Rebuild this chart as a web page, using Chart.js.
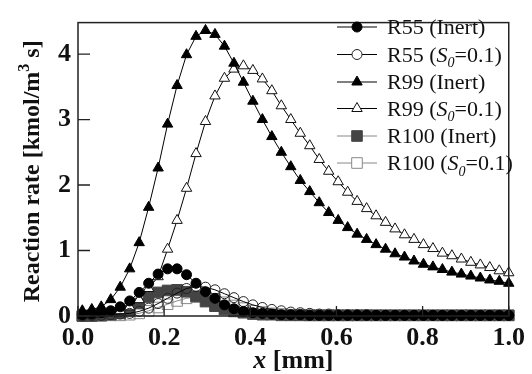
<!DOCTYPE html>
<html><head><meta charset="utf-8">
<script src="https://cdn.jsdelivr.net/npm/chart.js@4"></script>
<style>html,body{margin:0;padding:0;background:#fff}#wrap{width:532px;height:374px}</style>
</head><body><div id="wrap"><canvas id="c" width="532" height="374"></canvas></div>
<script>
// ---- data ----
const xPositions = [0.010,0.032,0.054,0.076,0.098,0.120,0.142,0.164,0.186,0.208,
  0.230,0.252,0.274,0.296,0.318,0.340,0.362,0.384,0.406,0.428,
  0.450,0.472,0.494,0.516,0.538,0.560,0.582,0.604,0.626,0.648,
  0.670,0.692,0.714,0.736,0.758,0.780,0.802,0.824,0.846,0.868,
  0.890,0.912,0.934,0.956,0.978,1.000];
const r55Inert = [0.02,0.03,0.05,0.08,0.14,0.23,0.36,0.50,0.64,0.72,
  0.72,0.63,0.50,0.37,0.27,0.17,0.11,0.07,0.05,0.04,
  0.03,0.02,0.02,0.02,0.01,0.01,0.01,0.01,0.01,0.01,
  0.01,0.01,0.01,0.01,0.01,0.01,0.01,0.01,0.01,0.01,
  0.01,0.01,0.01,0.01,0.01,0.01];
const r55S0 = [0.00,0.01,0.01,0.02,0.03,0.04,0.07,0.12,0.19,0.27,
  0.35,0.42,0.45,0.44,0.40,0.34,0.28,0.22,0.17,0.13,
  0.10,0.08,0.06,0.05,0.04,0.03,0.03,0.02,0.02,0.02,
  0.02,0.01,0.01,0.01,0.01,0.01,0.01,0.01,0.01,0.01,
  0.01,0.01,0.01,0.01,0.01,0.01];
const r99Inert = [0.08,0.10,0.14,0.25,0.44,0.72,1.12,1.66,2.26,2.93,
  3.52,3.99,4.27,4.36,4.30,4.12,3.86,3.57,3.28,3.00,
  2.74,2.50,2.28,2.07,1.90,1.73,1.58,1.46,1.35,1.25,
  1.17,1.09,1.02,0.95,0.90,0.84,0.79,0.75,0.71,0.67,
  0.64,0.61,0.58,0.55,0.53,0.50];
const r99S0 = [0.01,0.02,0.03,0.05,0.08,0.14,0.25,0.42,0.60,1.02,
  1.46,1.95,2.48,2.97,3.36,3.63,3.77,3.82,3.75,3.62,
  3.44,3.21,3.00,2.79,2.60,2.39,2.21,2.05,1.89,1.75,
  1.64,1.53,1.43,1.33,1.24,1.17,1.09,1.03,0.96,0.92,
  0.87,0.82,0.78,0.74,0.69,0.66];
const r100Inert = [0.00,0.00,0.01,0.02,0.04,0.08,0.19,0.29,0.36,0.39,
  0.40,0.37,0.30,0.22,0.15,0.10,0.07,0.05,0.03,0.02,
  0.02,0.01,0.01,0.01,0.01,0.01,0.01,0.01,0.01,0.01,
  0.01,0.01,0.01,0.01,0.01,0.01,0.01,0.01,0.01,0.01,
  0.01,0.01,0.01,0.01,0.01,0.01];
const r100S0 = [0.00,0.00,0.00,0.01,0.01,0.02,0.04,0.08,0.13,0.18,
  0.23,0.27,0.29,0.29,0.26,0.21,0.16,0.12,0.08,0.06,
  0.04,0.03,0.02,0.02,0.01,0.01,0.01,0.01,0.01,0.01,
  0.01,0.01,0.01,0.01,0.01,0.01,0.01,0.01,0.01,0.01,
  0.01,0.01,0.01,0.01,0.01,0.01];
const seriesLabels = [
  [{t:'R55 (Inert)'}],
  [{t:'R55 ('},{t:'S',it:1},{t:'0',it:1,sub:1},{t:'=0.1)'}],
  [{t:'R99 (Inert)'}],
  [{t:'R99 ('},{t:'S',it:1},{t:'0',it:1,sub:1},{t:'=0.1)'}],
  [{t:'R100 (Inert)'}],
  [{t:'R100 ('},{t:'S',it:1},{t:'0',it:1,sub:1},{t:'=0.1)'}]
];
const xTicks = [0.0,0.2,0.4,0.6,0.8,1.0];
const yTicks = [0,1,2,3,4];
const xTitle = [{t:'x',it:1},{t:' [mm]'}];
const yTitle = [{t:'Reaction rate [kmol/m'},{t:'3',sup:1},{t:' s]'}];

// ---- chart ----
const SERIF = '"Liberation Serif", "Times New Roman", serif';
function pts(arr){ return arr.map((v,i)=>({x:xPositions[i], y:v})); }

const CLEAR = 'rgba(255,255,255,0)';
const styles = [
  {pointStyle:'circle', pointRadius:5, pointBackgroundColor:'#000', pointBorderColor:'#000', borderColor:'#000', legendFill:'#000'},
  {pointStyle:'circle', pointRadius:5, pointBackgroundColor:CLEAR, pointBorderColor:'#222', borderColor:'#000', legendFill:'#fff'},
  {pointStyle:'triangle', pointRadius:6, pointBackgroundColor:'#000', pointBorderColor:'#000', borderColor:'#000', legendFill:'#000'},
  {pointStyle:'triangle', pointRadius:6, pointBackgroundColor:'#fff', pointBorderColor:'#111', borderColor:'#000', legendFill:'#fff'},
  {pointStyle:'rect', pointRadius:7.5, pointBackgroundColor:'#444', pointBorderColor:'#444', borderColor:'#888', legendFill:'#444'},
  {pointStyle:'rect', pointRadius:7.5, pointBackgroundColor:CLEAR, pointBorderColor:'#888', borderColor:'#888', legendFill:'#fff'}
];
const allSeries = [r55Inert, r55S0, r99Inert, r99S0, r100Inert, r100S0];
const datasets = allSeries.map((arr,i)=>Object.assign({
  data: pts(arr), borderWidth:1, pointBorderWidth:1, tension:0, fill:false, clip:false
}, styles[i]));

function fontFor(p,size,bold){
  const s = (p.sub||p.sup) ? Math.round(size*0.65) : size;
  return (p.it?'italic ':'') + (bold?'bold ':'') + s + 'px ' + SERIF;
}
function richWidth(ctx, parts, size, bold){
  let w=0;
  for(const p of parts){ ctx.font = fontFor(p,size,bold); w += ctx.measureText(p.t).width; }
  return w;
}
function drawRich(ctx, parts, x, y, size, bold){
  let cx = x;
  for(const p of parts){
    ctx.font = fontFor(p,size,bold);
    let dy = 0;
    if(p.sub) dy = size*0.25;
    if(p.sup) dy = -size*0.42;
    ctx.fillText(p.t, cx, y+dy);
    cx += ctx.measureText(p.t).width;
  }
}

const decor = {
  id:'decor',
  afterDraw(chart){
    const ctx = chart.ctx, a = chart.chartArea;
    const xs = chart.scales.x, ys = chart.scales.y;
    ctx.save();
    ctx.strokeStyle = '#222'; ctx.lineWidth = 1.5;
    ctx.strokeRect(a.left, a.top, a.right-a.left, a.bottom-a.top);
    ctx.lineWidth = 1.3;
    ctx.beginPath();
    for(const v of xTicks){ const px = xs.getPixelForValue(v); ctx.moveTo(px, a.bottom); ctx.lineTo(px, a.bottom-10); }
    for(const v of yTicks){ const py = ys.getPixelForValue(v); ctx.moveTo(a.left, py); ctx.lineTo(a.left+12, py); }
    ctx.stroke();

    // axis titles
    ctx.fillStyle = '#111'; ctx.textBaseline = 'alphabetic';
    const xw = richWidth(ctx, xTitle, 26, true);
    drawRich(ctx, xTitle, (a.left+a.right)/2 - xw/2, 368, 26, true);
    ctx.save();
    ctx.translate(39, (a.top+a.bottom)/2 + 2);
    ctx.rotate(-Math.PI/2);
    const yw = richWidth(ctx, yTitle, 24, true);
    drawRich(ctx, yTitle, -yw/2, 0, 24, true);
    ctx.restore();

    // legend
    const rowY = [27, 54.5, 82, 108.5, 136, 163];
    chart.data.datasets.forEach((ds,i)=>{
      const y = rowY[i];
      ctx.strokeStyle = ds.borderColor; ctx.lineWidth = 1;
      ctx.beginPath(); ctx.moveTo(337, y); ctx.lineTo(377, y); ctx.stroke();
      ctx.fillStyle = ds.legendFill; ctx.strokeStyle = ds.pointBorderColor;
      Chart.helpers.drawPoint(ctx, {pointStyle: ds.pointStyle, radius: ds.pointRadius, borderWidth: 1, rotation:0}, 357, y);
      ctx.fillStyle = '#111';
      drawRich(ctx, seriesLabels[i], 387, y+7, 22, false);
    });
    ctx.restore();
  }
};

Chart.defaults.font.family = SERIF;
new Chart(document.getElementById('c'), {
  type:'line',
  data:{datasets},
  options:{
    responsive:false, animation:false, devicePixelRatio:1,
    layout:{padding:{left:0, right:17, top:11, bottom:0}},
    plugins:{legend:{display:false}, tooltip:{enabled:false}},
    scales:{
      x:{type:'linear', min:0, max:1,
         afterBuildTicks(s){ s.ticks = xTicks.map(v=>({value:v})); },
         afterFit(s){ s.height = 58; },
         grid:{display:false, drawTicks:false}, border:{display:false},
         ticks:{padding:7, color:'#111', font:{size:26, weight:'bold'}, callback:v=>v.toFixed(1), maxRotation:0}},
      y:{type:'linear', min:0, max:4.48,
         afterBuildTicks(s){ s.ticks = yTicks.map(v=>({value:v})); },
         afterFit(s){ s.width = 78; },
         grid:{display:false, drawTicks:false}, border:{display:false},
         ticks:{padding:7, color:'#111', font:{size:26, weight:'bold'}, callback:v=>String(v)}}
    }
  },
  plugins:[decor]
});
</script></body></html>
